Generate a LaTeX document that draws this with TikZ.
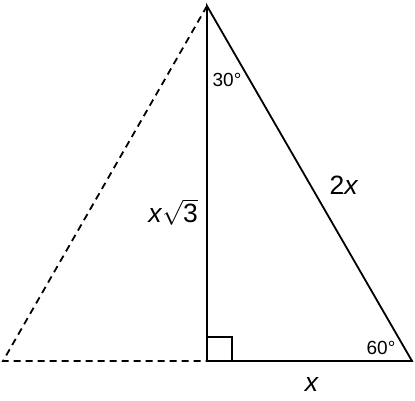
\documentclass[tikz,border=0pt]{standalone}
\usepackage{fontspec}
\setmainfont{Liberation Sans}
\begin{document}
\begin{tikzpicture}[x=1pt,y=-1pt,
  side/.style={line width=1.8pt},
  dashside/.style={line width=1.8pt, dash pattern=on 7pt off 5pt},
  anglbl/.style={font=\fontsize{19}{21}\selectfont, inner sep=0pt},
  lenlbl/.style={font=\fontsize{26.5}{28}\selectfont, inner sep=0pt}]
\useasboundingbox (0,0) rectangle (415,400);
\coordinate (A) at (207,6);
\coordinate (B) at (207,361);
\coordinate (C) at (412,361);
\coordinate (D) at (3,361);
\coordinate (S) at (232,337);
\draw[dashside] (A) -- (D) -- (B);
\draw[side, line join=miter] (B) -- (A) -- (C) -- cycle;
\draw[line width=1.5pt] (B) rectangle (S);
\node[anglbl] (a30) at (227,80) {30°};
\node[anglbl] (a60) at (381,348) {60°};
\node[lenlbl] (hyp) at (344,185) {2\textit{x}};
\node[lenlbl] (leg) at (173,212) {\textit{x}$\sqrt{\mbox{3}}$};
\node[lenlbl] (base) at (312,384) {\textit{x}};
\end{tikzpicture}
\end{document}
